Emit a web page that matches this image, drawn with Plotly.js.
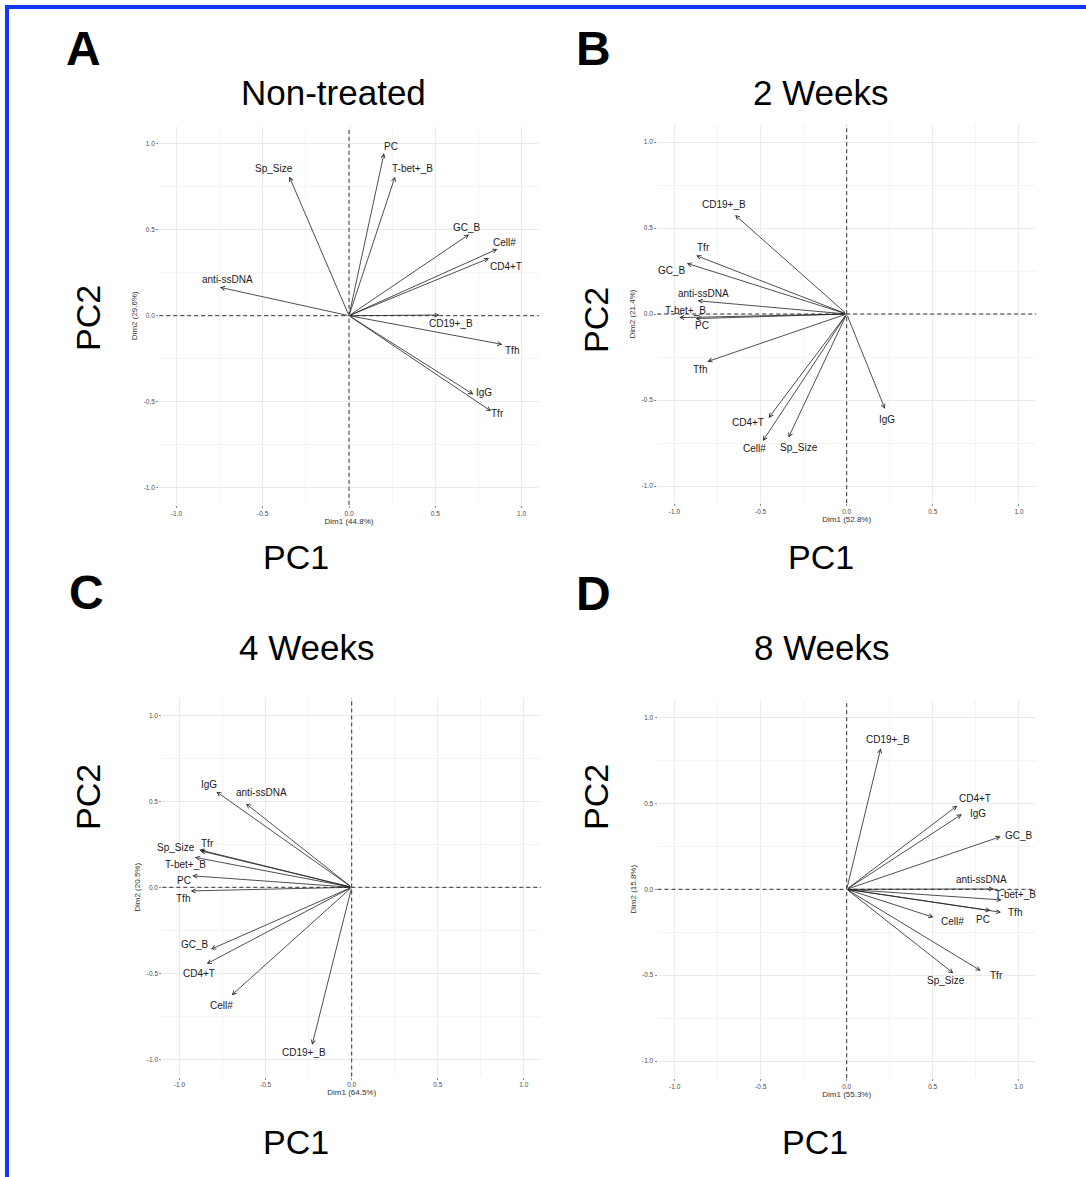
<!DOCTYPE html>
<html>
<head>
<meta charset="utf-8">
<script src="https://cdn.plot.ly/plotly-3.0.1.min.js"></script>
<style>
  html, body { margin: 0; padding: 0; background: #fff; }
  #chart { width: 1086px; height: 1177px; }
</style>
</head>
<body>
<div id="chart"></div>
<script>
// ---------------- DATA ----------------
const variables = ["Sp_Size", "Cell#", "CD4+T", "Tfh", "Tfr", "CD19+_B", "GC_B", "T-bet+_B", "PC", "IgG", "anti-ssDNA"];

const panelLetters = ["A", "B", "C", "D"];
const panelTitles = ["Non-treated", "2 Weeks", "4 Weeks", "8 Weeks"];
const dim1Pct = ["44.8%", "52.8%", "64.5%", "55.3%"];
const dim2Pct = ["29.6%", "21.4%", "20.5%", "15.8%"];

const tickVals = [-1.0, -0.5, 0.0, 0.5, 1.0];
const tickText = ["-1.0", "-0.5", "0.0", "0.5", "1.0"];

// Non-treated
const nonTreatedDim1 = [-0.346, 0.860, 0.812, 0.889, 0.823, 0.524, 0.696, 0.267, 0.203, 0.721, -0.748];
const nonTreatedDim2 = [0.809, 0.388, 0.334, -0.167, -0.555, 0.004, 0.473, 0.809, 0.945, -0.458, 0.165];
const nonTreatedLabelDim1 = [-0.433, 0.900, 0.910, 0.943, 0.862, 0.589, 0.686, 0.367, 0.243, 0.785, -0.703];
const nonTreatedLabelDim2 = [0.854, 0.427, 0.285, -0.200, -0.570, -0.045, 0.514, 0.854, 0.987, -0.446, 0.208];

// 2 Weeks
const week2Dim1 = [-0.338, -0.487, -0.453, -0.809, -0.874, -0.648, -0.928, -0.972, -0.877, 0.222, -0.865];
const week2Dim2 = [-0.718, -0.738, -0.604, -0.277, 0.340, 0.575, 0.295, -0.021, -0.027, -0.551, 0.077];
const week2LabelDim1 = [-0.277, -0.534, -0.571, -0.851, -0.832, -0.714, -1.015, -0.934, -0.838, 0.234, -0.832];
const week2LabelDim2 = [-0.777, -0.783, -0.631, -0.322, 0.384, 0.639, 0.252, 0.023, -0.068, -0.612, 0.120];

// 4 Weeks
const week4Dim1 = [-0.885, -0.697, -0.842, -0.935, -0.878, -0.230, -0.817, -0.910, -0.926, -0.786, -0.614];
const week4Dim2 = [0.218, -0.627, -0.445, -0.021, 0.212, -0.916, -0.360, 0.174, 0.067, 0.556, 0.486];
const week4LabelDim1 = [-1.020, -0.755, -0.887, -0.978, -0.836, -0.277, -0.910, -0.964, -0.974, -0.829, -0.523];
const week4LabelDim2 = [0.232, -0.687, -0.500, -0.064, 0.256, -0.960, -0.335, 0.130, 0.037, 0.598, 0.552];

// 8 Weeks
const week8Dim1 = [0.620, 0.504, 0.643, 0.897, 0.779, 0.198, 0.895, 0.901, 0.837, 0.669, 0.856];
const week8Dim2 = [-0.489, -0.163, 0.487, -0.134, -0.474, 0.821, 0.307, -0.062, -0.124, 0.437, 0.002];
const week8LabelDim1 = [0.576, 0.614, 0.746, 0.978, 0.868, 0.238, 1.004, 0.984, 0.794, 0.762, 0.785];
const week8LabelDim2 = [-0.532, -0.188, 0.530, -0.136, -0.503, 0.870, 0.311, -0.029, -0.174, 0.439, 0.060];

// ---------------- LAYOUT HELPERS ----------------
const W = 1086, H = 1177;
const fx = px => px / W;
const fy = py => 1 - py / H;
const FONT = "Arial, 'Liberation Sans', Helvetica, sans-serif";

const panels = [
  { d1: nonTreatedDim1, d2: nonTreatedDim2, l1: nonTreatedLabelDim1, l2: nonTreatedLabelDim2,
    box: [159.2, 538.8, 126.6, 504.8], letter: [83, 48], title: [333, 92], pc1: [296, 557], pc2: [88, 318] },
  { d1: week2Dim1, d2: week2Dim2, l1: week2LabelDim1, l2: week2LabelDim2,
    box: [657.2, 1036.2, 124.8, 503.2], letter: [593, 48], title: [821, 92], pc1: [821, 557], pc2: [596, 320] },
  { d1: week4Dim1, d2: week4Dim2, l1: week4LabelDim1, l2: week4LabelDim2,
    box: [162.3, 541.1, 698.1, 1076.5], letter: [86, 592], title: [307, 647], pc1: [296, 1142], pc2: [88, 797] },
  { d1: week8Dim1, d2: week8Dim2, l1: week8LabelDim1, l2: week8LabelDim2,
    box: [657.5, 1035.9, 700.4, 1078.2], letter: [593, 594], title: [822, 647], pc1: [815, 1142], pc2: [596, 797] }
];

const layout = {
  width: W, height: H,
  margin: { l: 0, r: 0, t: 0, b: 0, pad: 0 },
  paper_bgcolor: "#ffffff",
  plot_bgcolor: "#ffffff",
  showlegend: false,
  font: { family: FONT, color: "#000" },
  annotations: [],
  shapes: []
};
const traces = [];

panels.forEach((p, i) => {
  const n = i + 1;
  const xa = "x" + (n === 1 ? "" : n), ya = "y" + (n === 1 ? "" : n);
  const xKey = "xaxis" + (n === 1 ? "" : n), yKey = "yaxis" + (n === 1 ? "" : n);
  const axisCommon = {
    range: [-1.1, 1.1],
    tickmode: "array", tickvals: tickVals, ticktext: tickText,
    showgrid: true, gridcolor: "#ebebeb", gridwidth: 1,
    minor: { dtick: 0.25, tick0: 0, showgrid: true, gridcolor: "#f4f4f4", gridwidth: 1 },
    zeroline: false, showline: false,
    ticks: "outside", ticklen: 2, tickwidth: 0.6, tickcolor: "#444",
    tickfont: { size: 6.5, color: "#4d4d4d", family: FONT },
    fixedrange: true, automargin: false
  };
  layout[xKey] = Object.assign({}, axisCommon, {
    domain: [fx(p.box[0]), fx(p.box[1])], anchor: ya,
    title: { text: "Dim1 (" + dim1Pct[i] + ")", font: { size: 8, color: "#333", family: FONT }, standoff: 2 }
  });
  layout[yKey] = Object.assign({}, axisCommon, {
    domain: [fy(p.box[3]), fy(p.box[2])], anchor: xa,
    title: { text: "Dim2 (" + dim2Pct[i] + ")", font: { size: 8, color: "#333", family: FONT }, standoff: 4 }
  });

  // invisible origin point so the subplot exists
  traces.push({ type: "scatter", mode: "markers", x: [0], y: [0], xaxis: xa, yaxis: ya,
    marker: { size: 1, color: "rgba(0,0,0,0)" }, hoverinfo: "skip" });

  // dashed zero lines
  layout.shapes.push({ type: "line", xref: xa, yref: ya + " domain", x0: 0, x1: 0, y0: 0, y1: 1,
    line: { color: "#333", width: 1, dash: "4px,3px" } });
  layout.shapes.push({ type: "line", xref: xa + " domain", yref: ya, x0: 0, x1: 1, y0: 0, y1: 0,
    line: { color: "#333", width: 1, dash: "4px,3px" } });

  // arrows + labels
  variables.forEach((v, k) => {
    layout.annotations.push({
      xref: xa, yref: ya, axref: xa, ayref: ya,
      x: p.d1[k], y: p.d2[k], ax: 0, ay: 0,
      text: "", showarrow: true, arrowhead: 5, arrowsize: 1.0, arrowwidth: 0.8,
      arrowcolor: "#222", standoff: 0, startstandoff: 0
    });
    layout.annotations.push({
      xref: xa, yref: ya, x: p.l1[k], y: p.l2[k],
      text: v, showarrow: false, xanchor: "center", yanchor: "middle",
      font: { size: 10, color: "#1a1a1a", family: FONT }
    });
  });

  // big panel letter
  layout.annotations.push({ xref: "paper", yref: "paper", x: fx(p.letter[0]), y: fy(p.letter[1]),
    text: "<b>" + panelLetters[i] + "</b>", showarrow: false, xanchor: "center", yanchor: "middle",
    font: { size: 48, color: "#000", family: FONT } });
  // title
  layout.annotations.push({ xref: "paper", yref: "paper", x: fx(p.title[0]), y: fy(p.title[1]),
    text: panelTitles[i], showarrow: false, xanchor: "center", yanchor: "middle",
    font: { size: 35, color: "#000", family: FONT } });
  // PC1 / PC2
  layout.annotations.push({ xref: "paper", yref: "paper", x: fx(p.pc1[0]), y: fy(p.pc1[1]),
    text: "PC1", showarrow: false, xanchor: "center", yanchor: "middle",
    font: { size: 34, color: "#000", family: FONT } });
  layout.annotations.push({ xref: "paper", yref: "paper", x: fx(p.pc2[0]), y: fy(p.pc2[1]),
    text: "PC2", showarrow: false, xanchor: "center", yanchor: "middle", textangle: -90,
    font: { size: 34, color: "#000", family: FONT } });
});

// blue frame (top and left edges)
layout.shapes.push({ type: "line", xref: "paper", yref: "paper", x0: fx(5), x1: 1, y0: fy(7), y1: fy(7),
  line: { color: "#1238ff", width: 4 } });
layout.shapes.push({ type: "line", xref: "paper", yref: "paper", x0: fx(7), x1: fx(7), y0: fy(5), y1: 0,
  line: { color: "#1238ff", width: 4 } });

Plotly.newPlot("chart", traces, layout, { staticPlot: true, displayModeBar: false });
</script>
</body>
</html>
